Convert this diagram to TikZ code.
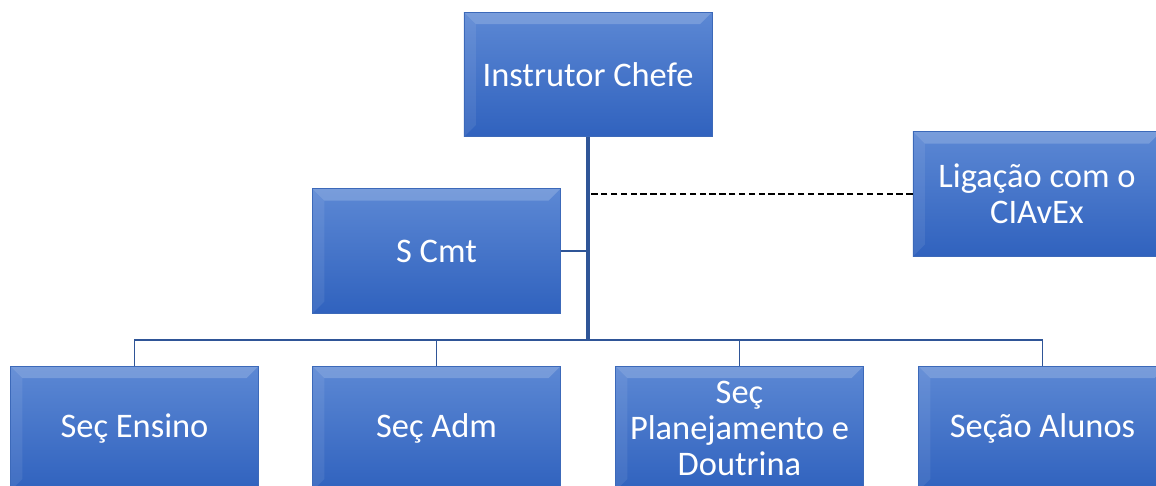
\documentclass[tikz,border=0pt]{standalone}
\usepackage{fontspec}
\setmainfont{Carlito}
\usepackage{tikz}
\usetikzlibrary{positioning}

\definecolor{boxtop}{RGB}{92,136,212}
\definecolor{boxbottom}{RGB}{48,98,190}
\definecolor{boxedge}{RGB}{60,105,185}
\definecolor{linkblue}{RGB}{47,85,151}

\begin{document}
\begin{tikzpicture}[
                    x=0.025cm, y=-0.025cm,
                    box_node/.style={rectangle, draw=boxedge, line width=0.6pt, top color=boxtop, bottom color=boxbottom,
                                     text=white, align=center, minimum width=6.2cm, minimum height=3.12cm,
                                     font=\fontsize{24.5}{25.5}\selectfont, inner sep=2pt,
                                     path picture={
                                        \fill[white, opacity=0.18] (path picture bounding box.north west) -- (path picture bounding box.north east)
                                            -- ([xshift=-0.3cm, yshift=-0.3cm]path picture bounding box.north east)
                                            -- ([xshift=0.3cm, yshift=-0.3cm]path picture bounding box.north west) -- cycle;
                                        \fill[white, opacity=0.08] (path picture bounding box.north west) -- ([xshift=0.3cm, yshift=-0.3cm]path picture bounding box.north west)
                                            -- ([xshift=0.3cm, yshift=0.3cm]path picture bounding box.south west) -- (path picture bounding box.south west) -- cycle;
                                     }},
                    trunk_line/.style={draw=linkblue, line width=2.8pt},
                    branch_line/.style={draw=linkblue, line width=1.3pt},
                    link_line/.style={draw=black, line width=1.6pt, dash pattern=on 4.5pt off 2.5pt}
                ]
                    \clip (0,0) rectangle (1156,486);
                    % chefe e apoio
                    \node[box_node] (chefe) at (588,74.5) {Instrutor Chefe};
                    \node[box_node] (scmt) at (436.5,251) {S Cmt};
                    \node[box_node] (ciavex) at (1037,194) {Ligação com o\\CIAvEx};
                    % secoes
                    \node[box_node] (ensino) at (134.5,428.5) {Seç Ensino};
                    \node[box_node] (adm) at (436.5,428.5) {Seç Adm};
                    \node[box_node] (planej) at (739.5,428.5) {Seç\\Planejamento e\\Doutrina};
                    \node[box_node] (alunos) at (1042.5,428.5) {Seção Alunos};
                    \coordinate (bus) at (588,340);
                    % ligacoes
                    \draw[branch_line] (ensino.north) |- (bus) -| (alunos.north);
                    \draw[branch_line] (adm.north) |- (bus);
                    \draw[branch_line] (planej.north) |- (bus);
                    \draw[branch_line] (scmt.east) -- (scmt.east -| chefe.south);
                    \draw[link_line] (ciavex.west) -- (ciavex.west -| chefe.south);
                    \draw[trunk_line] (chefe.south) -- (bus);
                \end{tikzpicture}
\end{document}
